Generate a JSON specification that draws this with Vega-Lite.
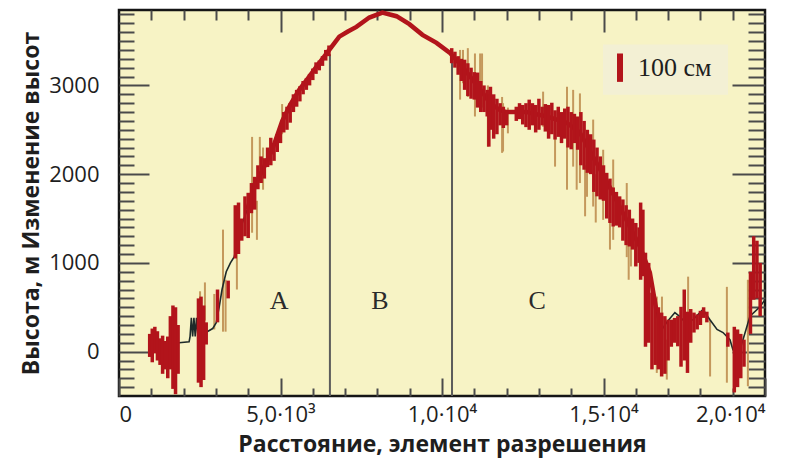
{
  "$schema": "https://vega.github.io/schema/vega-lite/v6.json",
  "width": 646,
  "height": 386,
  "autosize": "none",
  "padding": {"left": 119, "top": 10, "right": 47, "bottom": 73},
  "background": "white",
  "config": {
    "view": {"stroke": "#151515", "strokeWidth": 2.5, "fill": "#f7f3c5"},
    "axis": {"grid": false, "domain": false, "tickColor": "#4a4a4a", "tickWidth": 2, "labelFont": "Open Sans", "labelFontSize": 22, "labelColor": "#1e1e1e", "titleFont": "Open Sans", "titleFontSize": 23, "titleFontWeight": "bold", "titleColor": "#1e1e1e"}
  },
  "datasets": {
    "profile": [
      {"d": 930, "h": 80}, {"d": 1200, "h": 90}, {"d": 1500, "h": 100}, {"d": 1860, "h": 100}, {"d": 2170, "h": 110},
      {"d": 2200, "h": 170}, {"d": 2240, "h": 380}, {"d": 2280, "h": 170}, {"d": 2320, "h": 380}, {"d": 2360, "h": 170}, {"d": 2400, "h": 380}, {"d": 2440, "h": 200},
      {"d": 2730, "h": 225}, {"d": 2900, "h": 260}, {"d": 3010, "h": 325}, {"d": 3100, "h": 500}, {"d": 3190, "h": 700}, {"d": 3320, "h": 900},
      {"d": 3450, "h": 1000}, {"d": 3570, "h": 1070}, {"d": 3720, "h": 1350}, {"d": 3850, "h": 1480}, {"d": 3970, "h": 1600}, {"d": 4125, "h": 1790},
      {"d": 4340, "h": 1970}, {"d": 4560, "h": 2130}, {"d": 4745, "h": 2275}, {"d": 5055, "h": 2600}, {"d": 5300, "h": 2780}, {"d": 5580, "h": 2950},
      {"d": 5850, "h": 3080}, {"d": 6110, "h": 3210}, {"d": 6510, "h": 3400}, {"d": 6820, "h": 3550}, {"d": 7100, "h": 3610}, {"d": 7350, "h": 3660},
      {"d": 7750, "h": 3765}, {"d": 8155, "h": 3820}, {"d": 8590, "h": 3780}, {"d": 8990, "h": 3690}, {"d": 9395, "h": 3570}, {"d": 9830, "h": 3480},
      {"d": 10235, "h": 3370}, {"d": 10635, "h": 3210}, {"d": 10945, "h": 3065}, {"d": 11255, "h": 2920}, {"d": 11475, "h": 2805}, {"d": 11800, "h": 2720},
      {"d": 12000, "h": 2700}, {"d": 12185, "h": 2700}, {"d": 12620, "h": 2700}, {"d": 13240, "h": 2650}, {"d": 13860, "h": 2580}, {"d": 14265, "h": 2470},
      {"d": 14670, "h": 2200}, {"d": 15100, "h": 1920}, {"d": 15500, "h": 1635}, {"d": 15910, "h": 1340}, {"d": 16125, "h": 1185}, {"d": 16435, "h": 890},
      {"d": 16650, "h": 440}, {"d": 16745, "h": 215}, {"d": 16960, "h": 330}, {"d": 17210, "h": 440}, {"d": 17365, "h": 395}, {"d": 17550, "h": 320},
      {"d": 17770, "h": 360}, {"d": 18080, "h": 475}, {"d": 18295, "h": 360}, {"d": 18515, "h": 250}, {"d": 18700, "h": 215}, {"d": 18915, "h": 135},
      {"d": 19010, "h": 20}, {"d": 19225, "h": 20}, {"d": 19535, "h": 400}, {"d": 19845, "h": 505}, {"d": 20000, "h": 585}
    ],
    "red": [
      {"d": 950, "lo": -60, "hi": 200}, {"d": 1030, "lo": -120, "hi": 260}, {"d": 1110, "lo": -20, "hi": 280}, {"d": 1190, "lo": -100, "hi": 230},
      {"d": 1270, "lo": -150, "hi": 150}, {"d": 1350, "lo": -250, "hi": 180}, {"d": 1430, "lo": -200, "hi": 120}, {"d": 1510, "lo": -300, "hi": 170},
      {"d": 1590, "lo": -200, "hi": 400}, {"d": 1670, "lo": -420, "hi": 520}, {"d": 1750, "lo": -480, "hi": 500}, {"d": 1830, "lo": -250, "hi": 300},
      {"d": 2460, "lo": -350, "hi": 600}, {"d": 2540, "lo": -400, "hi": 620}, {"d": 2620, "lo": -320, "hi": 520}, {"d": 2700, "lo": 80, "hi": 330},
      {"d": 3050, "lo": 330, "hi": 700}, {"d": 3380, "lo": 600, "hi": 800},
      {"d": 3600, "lo": 1050, "hi": 1650}, {"d": 3700, "lo": 1100, "hi": 1680}, {"d": 3800, "lo": 1250, "hi": 1500}, {"d": 3900, "lo": 1300, "hi": 1750},
      {"d": 4000, "lo": 1280, "hi": 1790}, {"d": 4100, "lo": 1560, "hi": 1900}, {"d": 4200, "lo": 1600, "hi": 1970}, {"d": 4300, "lo": 1830, "hi": 2100},
      {"d": 4400, "lo": 1900, "hi": 2200}, {"d": 4500, "lo": 1950, "hi": 2180}, {"d": 4600, "lo": 2080, "hi": 2300}, {"d": 4700, "lo": 2100, "hi": 2410},
      {"d": 4800, "lo": 2150, "hi": 2350}, {"d": 4900, "lo": 2250, "hi": 2450}, {"d": 5000, "lo": 2350, "hi": 2520}, {"d": 5100, "lo": 2470, "hi": 2700},
      {"d": 5200, "lo": 2500, "hi": 2760}, {"d": 5300, "lo": 2580, "hi": 2800}, {"d": 5400, "lo": 2700, "hi": 2900}, {"d": 5500, "lo": 2760, "hi": 2950},
      {"d": 5600, "lo": 2820, "hi": 2990}, {"d": 5700, "lo": 2900, "hi": 3050}, {"d": 5800, "lo": 2950, "hi": 3080}, {"d": 5900, "lo": 3000, "hi": 3130},
      {"d": 6000, "lo": 3060, "hi": 3190}, {"d": 6100, "lo": 3130, "hi": 3260}, {"d": 6200, "lo": 3170, "hi": 3280}, {"d": 6300, "lo": 3220, "hi": 3330},
      {"d": 6400, "lo": 3280, "hi": 3400}, {"d": 6500, "lo": 3330, "hi": 3450},
      {"d": 10300, "lo": 3250, "hi": 3420}, {"d": 10400, "lo": 3200, "hi": 3380}, {"d": 10500, "lo": 3120, "hi": 3330}, {"d": 10600, "lo": 3050, "hi": 3300},
      {"d": 10700, "lo": 2950, "hi": 3290}, {"d": 10800, "lo": 2880, "hi": 3250}, {"d": 10900, "lo": 2850, "hi": 3200}, {"d": 11000, "lo": 2840, "hi": 3150},
      {"d": 11100, "lo": 2750, "hi": 3145}, {"d": 11200, "lo": 2700, "hi": 3050}, {"d": 11300, "lo": 2700, "hi": 3000}, {"d": 11400, "lo": 2650, "hi": 2950},
      {"d": 11450, "lo": 2310, "hi": 2900}, {"d": 11500, "lo": 2500, "hi": 2985}, {"d": 11600, "lo": 2400, "hi": 2900}, {"d": 11700, "lo": 2450, "hi": 2850},
      {"d": 11800, "lo": 2550, "hi": 2800}, {"d": 11900, "lo": 2520, "hi": 2760}, {"d": 12000, "lo": 2550, "hi": 2700},
      {"d": 12300, "lo": 2600, "hi": 2760}, {"d": 12400, "lo": 2620, "hi": 2800}, {"d": 12500, "lo": 2560, "hi": 2780}, {"d": 12600, "lo": 2530, "hi": 2800},
      {"d": 12700, "lo": 2500, "hi": 2840}, {"d": 12800, "lo": 2550, "hi": 2800}, {"d": 12900, "lo": 2470, "hi": 2780}, {"d": 13000, "lo": 2500, "hi": 2850},
      {"d": 13100, "lo": 2550, "hi": 2760}, {"d": 13200, "lo": 2480, "hi": 2790}, {"d": 13300, "lo": 2400, "hi": 2780}, {"d": 13400, "lo": 2450, "hi": 2805},
      {"d": 13500, "lo": 2390, "hi": 2720}, {"d": 13600, "lo": 2420, "hi": 2760}, {"d": 13700, "lo": 2350, "hi": 2700}, {"d": 13800, "lo": 2400, "hi": 2740},
      {"d": 13900, "lo": 2300, "hi": 2760}, {"d": 14000, "lo": 2280, "hi": 2700}, {"d": 14100, "lo": 2350, "hi": 2680}, {"d": 14200, "lo": 2275, "hi": 2650},
      {"d": 14300, "lo": 2100, "hi": 2700}, {"d": 14400, "lo": 2050, "hi": 2600}, {"d": 14500, "lo": 2015, "hi": 2500}, {"d": 14600, "lo": 2000, "hi": 2450},
      {"d": 14700, "lo": 1800, "hi": 2390}, {"d": 14800, "lo": 1750, "hi": 2300}, {"d": 14900, "lo": 1715, "hi": 2200}, {"d": 15000, "lo": 1700, "hi": 2100},
      {"d": 15100, "lo": 1500, "hi": 2015}, {"d": 15200, "lo": 1450, "hi": 1950}, {"d": 15300, "lo": 1410, "hi": 1850}, {"d": 15400, "lo": 1420, "hi": 1800},
      {"d": 15500, "lo": 1400, "hi": 1750}, {"d": 15600, "lo": 1250, "hi": 1715}, {"d": 15700, "lo": 1200, "hi": 1650}, {"d": 15800, "lo": 1185, "hi": 1600},
      {"d": 15900, "lo": 1150, "hi": 1500}, {"d": 16000, "lo": 960, "hi": 1450}, {"d": 16100, "lo": 1000, "hi": 1400}, {"d": 16150, "lo": 810, "hi": 1680},
      {"d": 16220, "lo": 850, "hi": 1600}, {"d": 16300, "lo": 55, "hi": 1115}, {"d": 16400, "lo": 100, "hi": 1000}, {"d": 16500, "lo": -200, "hi": 665},
      {"d": 16600, "lo": -150, "hi": 600}, {"d": 16700, "lo": -200, "hi": 500}, {"d": 16800, "lo": -280, "hi": 440}, {"d": 16900, "lo": -250, "hi": 400},
      {"d": 17000, "lo": -100, "hi": 360}, {"d": 17100, "lo": 55, "hi": 360}, {"d": 17200, "lo": 100, "hi": 380}, {"d": 17300, "lo": 60, "hi": 400},
      {"d": 17400, "lo": -170, "hi": 505}, {"d": 17500, "lo": -100, "hi": 700}, {"d": 17600, "lo": -240, "hi": 450}, {"d": 17700, "lo": 100, "hi": 480},
      {"d": 17800, "lo": 215, "hi": 440}, {"d": 17900, "lo": 250, "hi": 420}, {"d": 18000, "lo": 300, "hi": 460}, {"d": 18100, "lo": 380, "hi": 500},
      {"d": 18200, "lo": 330, "hi": 450}, {"d": 18850, "lo": 55, "hi": 215}, {"d": 19050, "lo": -460, "hi": 280}, {"d": 19150, "lo": -400, "hi": 250},
      {"d": 19250, "lo": -300, "hi": 200}, {"d": 19350, "lo": -170, "hi": 135}, {"d": 19550, "lo": 200, "hi": 900}, {"d": 19650, "lo": 585, "hi": 1300},
      {"d": 19750, "lo": 600, "hi": 1250}, {"d": 19850, "lo": 400, "hi": 1000}
    ],
    "tan": [
      {"d": 2510, "lo": 300, "hi": 680}, {"d": 2660, "lo": 350, "hi": 780}, {"d": 2950, "lo": 250, "hi": 650}, {"d": 3220, "lo": 225, "hi": 1375},
      {"d": 3300, "lo": 225, "hi": 810}, {"d": 3650, "lo": 700, "hi": 1630}, {"d": 4120, "lo": 1340, "hi": 2420}, {"d": 4270, "lo": 1260, "hi": 1700},
      {"d": 4360, "lo": 1900, "hi": 2420}, {"d": 4460, "lo": 1825, "hi": 2300}, {"d": 5050, "lo": 2450, "hi": 2790},
      {"d": 10560, "lo": 2840, "hi": 3400}, {"d": 10650, "lo": 3025, "hi": 3400}, {"d": 10800, "lo": 2870, "hi": 3420}, {"d": 11020, "lo": 2650, "hi": 3360},
      {"d": 11180, "lo": 2725, "hi": 3360}, {"d": 11240, "lo": 2750, "hi": 3360}, {"d": 11420, "lo": 2310, "hi": 3000}, {"d": 11860, "lo": 2240, "hi": 2870},
      {"d": 11890, "lo": 2255, "hi": 2800}, {"d": 12040, "lo": 2460, "hi": 2750}, {"d": 13130, "lo": 2535, "hi": 2930}, {"d": 13500, "lo": 2085, "hi": 2700},
      {"d": 13870, "lo": 1825, "hi": 2985}, {"d": 14060, "lo": 2085, "hi": 2950}, {"d": 14170, "lo": 1825, "hi": 2400}, {"d": 14270, "lo": 1900, "hi": 2910},
      {"d": 14430, "lo": 1525, "hi": 2100}, {"d": 14490, "lo": 1745, "hi": 2400}, {"d": 14680, "lo": 1635, "hi": 2615}, {"d": 14760, "lo": 1455, "hi": 2000},
      {"d": 14990, "lo": 1485, "hi": 2275}, {"d": 15200, "lo": 1150, "hi": 1800}, {"d": 15300, "lo": 1260, "hi": 2165}, {"d": 15720, "lo": 1065, "hi": 1900},
      {"d": 15780, "lo": 810, "hi": 1500}, {"d": 15850, "lo": 960, "hi": 1400}, {"d": 16650, "lo": -240, "hi": 620}, {"d": 16810, "lo": -200, "hi": 620},
      {"d": 16960, "lo": -315, "hi": 135}, {"d": 17620, "lo": 135, "hi": 845}, {"d": 18300, "lo": -280, "hi": 360}, {"d": 18820, "lo": -350, "hi": 730},
      {"d": 19470, "lo": -390, "hi": 810}
    ],
    "dividers": [{"d": 6530, "top": 3350}, {"d": 10310, "top": 3290}],
    "letters": [{"d": 4960, "h": 570, "t": "A"}, {"d": 8075, "h": 570, "t": "B"}, {"d": 12950, "h": 570, "t": "C"}],
    "keybox": [{"d1": 14985, "d2": 18855, "lo": 2895, "hi": 3460}],
    "keybar": [{"d": 15510, "lo": 3040, "hi": 3360, "t": "100 см"}]
  },
  "resolve": {"axis": {"x": "independent", "y": "independent"}},
  "layer": [
    {
      "data": {"name": "keybox"},
      "mark": {"type": "rect", "fill": "#f3f0d4"},
      "encoding": {
        "x": {"field": "d1", "type": "quantitative", "scale": {"domain": [0, 20000], "nice": false, "zero": false}, "axis": null},
        "x2": {"field": "d2"},
        "y": {"field": "lo", "type": "quantitative", "scale": {"domain": [-500, 3850], "nice": false, "zero": false}, "axis": null},
        "y2": {"field": "hi"}
      }
    },
    {
      "data": {"name": "dividers"},
      "mark": {"type": "rule", "color": "#5c5c5c", "strokeWidth": 2},
      "encoding": {
        "x": {"field": "d", "type": "quantitative", "axis": null},
        "y": {"field": "top", "type": "quantitative", "axis": null},
        "y2": {"datum": -500}
      }
    },
    {
      "data": {"name": "tan"},
      "mark": {"type": "rule", "color": "#c4985c", "strokeWidth": 2, "clip": true},
      "encoding": {
        "x": {"field": "d", "type": "quantitative", "axis": {"orient": "top", "values": [1000,2000,3000,4000,6000,7000,8000,9000,11000,12000,13000,14000,16000,17000,18000,19000], "tickSize": -10, "labels": false, "title": null}},
        "y": {"field": "lo", "type": "quantitative", "axis": {"orient": "right", "values": [-400,-300,-200,-100,100,200,300,400,500,600,700,800,900,1100,1200,1300,1400,1500,1600,1700,1800,1900,2100,2200,2300,2400,2500,2600,2700,2800,2900,3100,3200,3300,3400,3500,3600,3700,3800], "tickSize": -17, "labels": false, "title": null}},
        "y2": {"field": "hi"}
      }
    },
    {
      "data": {"name": "profile"},
      "mark": {"type": "line", "color": "#1d2a2a", "strokeWidth": 1.6, "clip": true},
      "encoding": {
        "x": {"field": "d", "type": "quantitative", "axis": {"orient": "bottom", "values": [0, 5000, 10000, 15000, 20000], "tickSize": -18, "labelPadding": 26, "labelExpr": "datum.value == 0 ? '0' : datum.value == 5000 ? '5,0·10³' : datum.value == 10000 ? '1,0·10⁴' : datum.value == 15000 ? '1,5·10⁴' : '2,0·10⁴'", "title": "Расстояние, элемент разрешения", "titlePadding": 8}},
        "y": {"field": "h", "type": "quantitative", "axis": {"orient": "left", "values": [0, 1000, 2000, 3000], "tickSize": -30, "labelPadding": 50, "labelExpr": "datum.value", "title": "Высота, м  Изменение высот", "titlePadding": 5}}
      }
    },
    {
      "data": {"name": "profile"},
      "transform": [{"filter": "datum.d >= 3900 && datum.d <= 16700"}],
      "mark": {"type": "line", "color": "#b2141b", "strokeWidth": 4.5, "clip": true},
      "encoding": {
        "x": {"field": "d", "type": "quantitative", "axis": {"orient": "bottom", "values": [1000,2000,3000,4000,6000,7000,8000,9000,11000,12000,13000,14000,16000,17000,18000,19000], "tickSize": -8, "labels": false, "title": null}},
        "y": {"field": "h", "type": "quantitative", "axis": {"orient": "left", "values": [-400,-300,-200,-100,100,200,300,400,500,600,700,800,900,1100,1200,1300,1400,1500,1600,1700,1800,1900,2100,2200,2300,2400,2500,2600,2700,2800,2900,3100,3200,3300,3400,3500,3600,3700,3800], "tickSize": -15, "labels": false, "title": null}}
      }
    },
    {
      "data": {"name": "red"},
      "mark": {"type": "rule", "color": "#b2141b", "strokeWidth": 3.5, "clip": true},
      "encoding": {
        "x": {"field": "d", "type": "quantitative", "axis": {"orient": "top", "values": [5000, 10000, 15000], "tickSize": -22, "labels": false, "title": null}},
        "y": {"field": "lo", "type": "quantitative", "axis": {"orient": "right", "values": [0, 1000, 2000, 3000], "tickSize": -33, "labels": false, "title": null}},
        "y2": {"field": "hi"}
      }
    },
    {
      "data": {"name": "letters"},
      "mark": {"type": "text", "font": "Liberation Serif", "fontSize": 26, "color": "#2b2b2b"},
      "encoding": {
        "x": {"field": "d", "type": "quantitative", "axis": null},
        "y": {"field": "h", "type": "quantitative", "axis": null},
        "text": {"field": "t"}
      }
    },
    {
      "data": {"name": "keybar"},
      "mark": {"type": "rule", "color": "#b2141b", "strokeWidth": 6},
      "encoding": {
        "x": {"field": "d", "type": "quantitative", "axis": null},
        "y": {"field": "lo", "type": "quantitative", "axis": null},
        "y2": {"field": "hi"}
      }
    },
    {
      "data": {"name": "keybar"},
      "mark": {"type": "text", "font": "Liberation Serif", "fontSize": 26, "color": "#1e1e1e", "align": "left", "baseline": "middle", "dx": 18, "dy": -14},
      "encoding": {
        "x": {"field": "d", "type": "quantitative", "axis": null},
        "y": {"field": "lo", "type": "quantitative", "axis": null},
        "text": {"field": "t"}
      }
    }
  ]
}
